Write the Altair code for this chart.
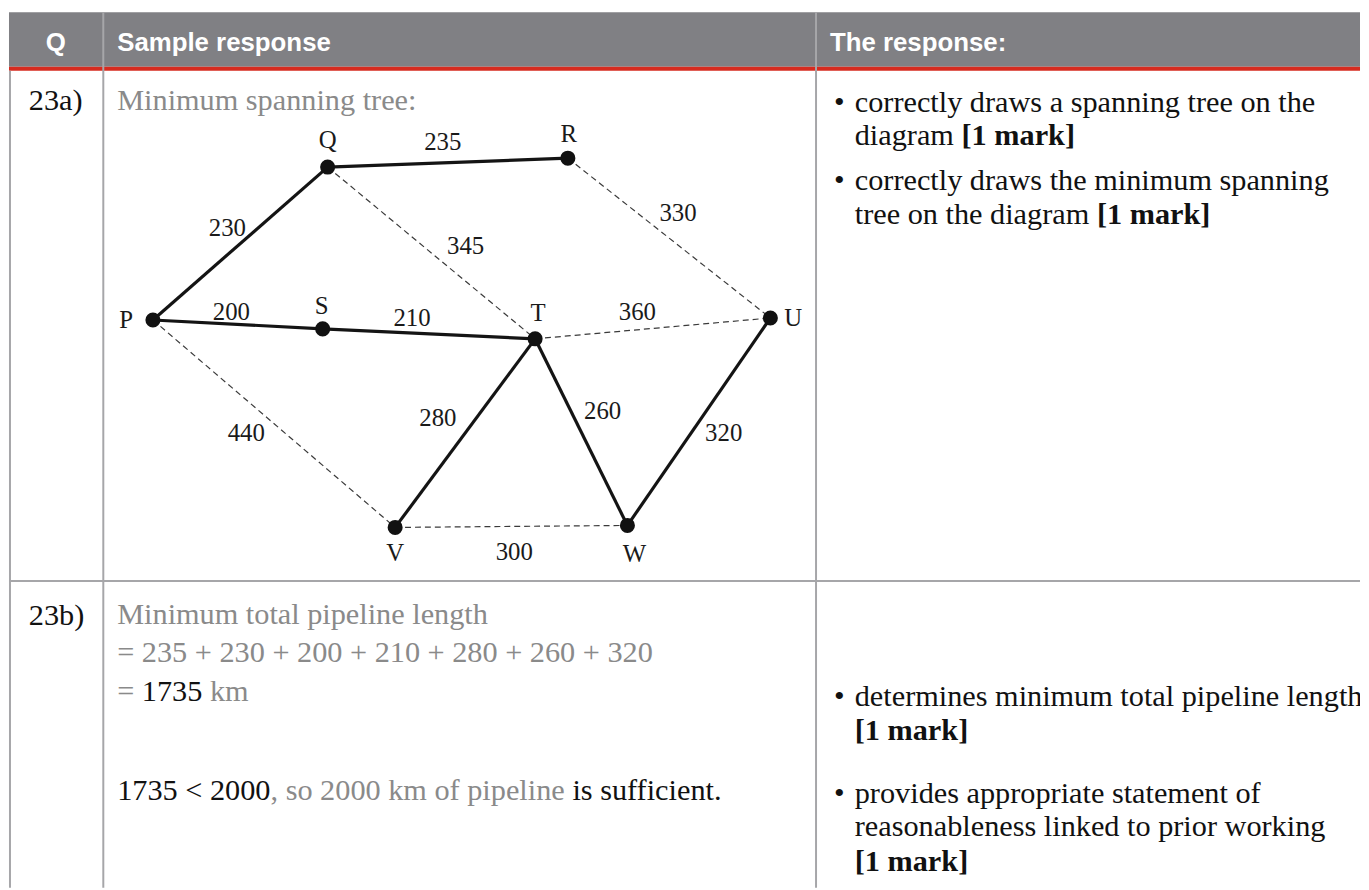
import altair as alt
import pandas as pd

# ---------------- data: network diagram ----------------
node_names = ["P", "Q", "R", "S", "T", "U", "V", "W"]
node_x = [153, 329, 571, 324, 538, 775, 397, 631]
node_y = [318, 164, 155, 327, 337, 316, 527, 525]
node_label_x = [126, 329, 572, 323, 541, 798, 397, 638]
node_label_y = [326, 145, 139, 312, 319, 324, 561, 562]

edge_from = ["P", "Q", "P", "S", "T", "T", "W", "Q", "R", "T", "P", "V"]
edge_to = ["Q", "R", "S", "T", "V", "W", "U", "T", "U", "U", "V", "W"]
edge_weight = [230, 235, 200, 210, 280, 260, 320, 345, 330, 360, 440, 300]
edge_in_tree = [True, True, True, True, True, True, True, False, False, False, False, False]
weight_label_x = [228, 445, 232, 414, 440, 606, 728, 468, 682, 641, 247, 517]
weight_label_y = [233, 147, 318, 324, 425, 418, 440, 252, 218, 318, 440, 560]

# ---------------- data: table text ----------------
header_labels = ["Q", "Sample response", "The response:"]
header_label_x = [45, 117, 835]
header_label_y = [47, 47, 47]

question_labels = ["23a)", "23b)"]
question_label_y = [106, 625]

answer_a = "Minimum spanning tree:"
answer_b_lines = ["Minimum total pipeline length",
                  "= 235 + 230 + 200 + 210 + 280 + 260 + 320"]
answer_b_line_y = [624, 663, 702, 802]

criteria_plain = ["correctly draws a spanning tree on the",
                  "correctly draws the minimum spanning",
                  "determines minimum total pipeline length",
                  "provides appropriate statement of",
                  "reasonableness linked to prior working"]
criteria_plain_y = [108, 187, 707, 805, 838]
bullet_y = [108, 187, 707, 805]
mark_text = "[1 mark]"

# ---------------- styling / layout constants ----------------
SERIF = "Liberation Serif"
SANS = "Liberation Sans"
BODY = 30.5
GRAPH_FS = 25
GRAY = "#8a8a8a"
BLACK = "#111111"
HEADER_GRAY = "#808084"
RED = "#d62b1f"
LINE_GRAY = "#a6a6a9"
LEFT_X = 117
Q_X = 28
BULLET_X = 839
CRIT_X = 860

# Times New Roman advance widths (per 1000 em) for run layout
TNR = {' ': 250, ',': 250, '.': 250, ':': 278, '<': 564, '=': 564, '+': 564,
       '[': 333, ']': 333, '(': 333, ')': 333,
       'a': 444, 'b': 500, 'c': 444, 'd': 500, 'e': 444, 'f': 333, 'g': 500,
       'h': 500, 'i': 278, 'j': 278, 'k': 500, 'l': 278, 'm': 778, 'n': 500,
       'o': 500, 'p': 500, 'q': 500, 'r': 333, 's': 389, 't': 278, 'u': 500,
       'v': 500, 'w': 722, 'x': 500, 'y': 500, 'z': 444}


def tw(s, size=BODY):
    return sum(TNR.get(c, 500) for c in s) * size / 1000.0


def layout_runs(x0, y0, runs):
    out = []
    x = x0
    for txt, color, bold, space_before in runs:
        if space_before:
            x += tw(" ")
        out.append(dict(text=txt, x=x, y=y0, color=color, bold=bold))
        x += tw(txt)
    return out


segments = []
# left column
segments.append(dict(text=question_labels[0], x=Q_X, y=question_label_y[0], color=BLACK, bold=False))
segments.append(dict(text=answer_a, x=LEFT_X, y=question_label_y[0], color=GRAY, bold=False))
segments.append(dict(text=question_labels[1], x=Q_X, y=question_label_y[1], color=BLACK, bold=False))
for txt, yy in zip(answer_b_lines, answer_b_line_y[:2]):
    segments.append(dict(text=txt, x=LEFT_X, y=yy, color=GRAY, bold=False))
segments += layout_runs(LEFT_X, answer_b_line_y[2],
                        [("=", GRAY, False, False), ("1735", BLACK, False, True), ("km", GRAY, False, True)])
segments += layout_runs(LEFT_X, answer_b_line_y[3],
                        [("1735 < 2000", BLACK, False, False),
                         (", so 2000 km of pipeline", GRAY, False, False),
                         ("is sufficient.", BLACK, False, True)])
# right column
for yy in bullet_y:
    segments.append(dict(text="\u2022", x=BULLET_X, y=yy, color=BLACK, bold=False))
for txt, yy in zip(criteria_plain, criteria_plain_y):
    segments.append(dict(text=txt, x=CRIT_X, y=yy, color=BLACK, bold=False))
segments += layout_runs(CRIT_X, 142, [("diagram", BLACK, False, False), (mark_text, BLACK, True, True)])
segments += layout_runs(CRIT_X, 221, [("tree on the diagram", BLACK, False, False), (mark_text, BLACK, True, True)])
segments.append(dict(text=mark_text, x=CRIT_X, y=741, color=BLACK, bold=True))
segments.append(dict(text=mark_text, x=CRIT_X, y=873, color=BLACK, bold=True))

seg_df = pd.DataFrame(segments)
normal_df = seg_df[~seg_df["bold"]]
bold_df = seg_df[seg_df["bold"]]

# ---------------- scales ----------------
W, H = 1361, 882
xs = alt.Scale(domain=[8, 8 + W], nice=False, zero=False)
ys = alt.Scale(domain=[8, 8 + H], nice=False, zero=False, reverse=True)

# ---------------- table structure ----------------
bands = pd.DataFrame({
    "x": [8, 8], "x2": [1369, 1369],
    "y": [8, 63], "y2": [63, 67],
    "color": [HEADER_GRAY, RED],
})
band_layer = alt.Chart(bands).mark_rect().encode(
    x=alt.X("x:Q", scale=xs, axis=None), x2="x2:Q",
    y=alt.Y("y:Q", scale=ys, axis=None), y2="y2:Q",
    color=alt.Color("color:N", scale=None),
)

grid = pd.DataFrame({
    "x": [9, 103, 821, 8], "x2": [9, 103, 821, 1369],
    "y": [67, 8, 8, 581], "y2": [890, 890, 890, 581],
})
grid_layer = alt.Chart(grid).mark_rule(color=LINE_GRAY, strokeWidth=2).encode(
    x=alt.X("x:Q", scale=xs, axis=None), x2="x2:Q",
    y=alt.Y("y:Q", scale=ys, axis=None), y2="y2:Q",
)

# ---------------- network ----------------
pos = {n: (x, y) for n, x, y in zip(node_names, node_x, node_y)}
edges = pd.DataFrame({
    "x": [pos[a][0] for a in edge_from], "y": [pos[a][1] for a in edge_from],
    "x2": [pos[b][0] for b in edge_to], "y2": [pos[b][1] for b in edge_to],
    "tree": edge_in_tree, "w": edge_weight,
    "lx": weight_label_x, "ly": weight_label_y,
})
solid_layer = alt.Chart(edges[edges["tree"]]).mark_rule(color="#141414", strokeWidth=3.2).encode(
    x=alt.X("x:Q", scale=xs, axis=None), x2="x2:Q",
    y=alt.Y("y:Q", scale=ys, axis=None), y2="y2:Q",
)
dashed_layer = alt.Chart(edges[~edges["tree"]]).mark_rule(
    color="#3a3a3a", strokeWidth=1.2, strokeDash=[6, 4]).encode(
    x=alt.X("x:Q", scale=xs, axis=None), x2="x2:Q",
    y=alt.Y("y:Q", scale=ys, axis=None), y2="y2:Q",
)
nodes = pd.DataFrame({"name": node_names, "x": node_x, "y": node_y,
                      "lx": node_label_x, "ly": node_label_y})
node_layer = alt.Chart(nodes).mark_circle(size=230, color="#111111", opacity=1).encode(
    x=alt.X("x:Q", scale=xs, axis=None), y=alt.Y("y:Q", scale=ys, axis=None),
)
node_label_layer = alt.Chart(nodes).mark_text(
    font=SERIF, fontSize=GRAPH_FS, color="#1a1a1a", align="center", baseline="alphabetic").encode(
    x=alt.X("lx:Q", scale=xs, axis=None), y=alt.Y("ly:Q", scale=ys, axis=None), text="name:N",
)
weight_label_layer = alt.Chart(edges).mark_text(
    font=SERIF, fontSize=GRAPH_FS, color="#1a1a1a", align="center", baseline="alphabetic").encode(
    x=alt.X("lx:Q", scale=xs, axis=None), y=alt.Y("ly:Q", scale=ys, axis=None), text="w:Q",
)

# ---------------- text layers ----------------
header_df = pd.DataFrame({"text": header_labels, "x": header_label_x, "y": header_label_y})
header_layer = alt.Chart(header_df).mark_text(
    font=SANS, fontSize=26, fontWeight="bold", color="white", align="left", baseline="alphabetic").encode(
    x=alt.X("x:Q", scale=xs, axis=None), y=alt.Y("y:Q", scale=ys, axis=None), text="text:N",
)
normal_layer = alt.Chart(normal_df).mark_text(
    font=SERIF, fontSize=BODY, align="left", baseline="alphabetic", clip=True).encode(
    x=alt.X("x:Q", scale=xs, axis=None), y=alt.Y("y:Q", scale=ys, axis=None), text="text:N",
    color=alt.Color("color:N", scale=None),
)
bold_layer = alt.Chart(bold_df).mark_text(
    font=SERIF, fontSize=BODY, fontWeight="bold", align="left", baseline="alphabetic", clip=True).encode(
    x=alt.X("x:Q", scale=xs, axis=None), y=alt.Y("y:Q", scale=ys, axis=None), text="text:N",
    color=alt.Color("color:N", scale=None),
)

chart = alt.layer(
    band_layer, grid_layer, dashed_layer, solid_layer, node_layer,
    node_label_layer, weight_label_layer, header_layer, normal_layer, bold_layer,
).properties(width=W, height=H, padding=0, background="white").configure_view(stroke=None)

chart.save("out.html", embed_options={"renderer": "svg", "actions": False})
